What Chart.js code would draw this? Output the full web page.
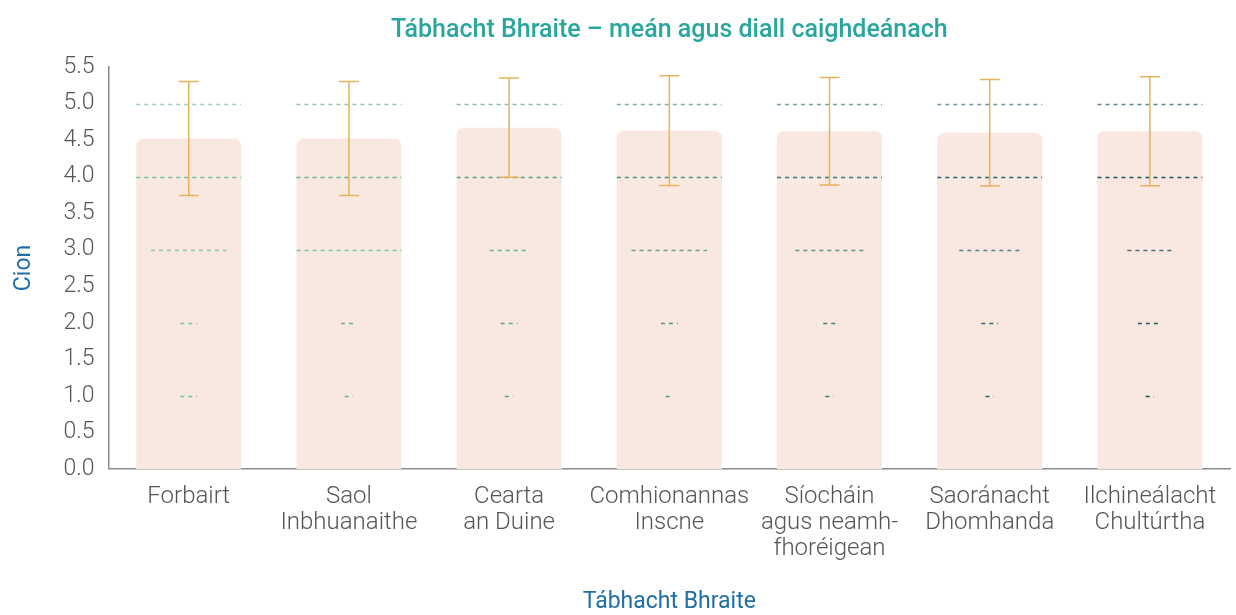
<!DOCTYPE html>
<html>
<head>
<meta charset="utf-8">
<script src="https://cdn.jsdelivr.net/npm/chart.js@4.4.1/dist/chart.umd.min.js"></script>
<style>
  body { margin: 0; background: #fff; }
  #wrap { width: 1236px; height: 615px; }
</style>
</head>
<body>
<div id="wrap"><canvas id="chart"></canvas></div>
<script>
// Dados
const categories = [
    'Forbairt',
    ['Saol', 'Inbhuanaithe'],
    ['Cearta', 'an Duine'],
    ['Comhionannas', 'Inscne'],
    ['Síocháin', 'agus neamh-', 'fhoréigean'],
    ['Saoránacht', 'Dhomhanda'],
    ['Ilchineálacht', 'Chultúrtha']
];
const means = [4.52, 4.52, 4.67, 4.63, 4.62, 4.60, 4.62];
const stdDevs = [0.78, 0.78, 0.68, 0.75, 0.735, 0.73, 0.745];
const yTicks = [0, 0.5, 1, 1.5, 2, 2.5, 3, 3.5, 4, 4.5, 5, 5.5];

// relative share of answers at each level (1..5), largest = 1
const levels = [1, 2, 3, 4, 5];
const shareLevel1 = [0.16, 0.08, 0.08, 0.07, 0.08, 0.08, 0.08];
const shareLevel2 = [0.16, 0.15, 0.16, 0.16, 0.12, 0.16, 0.23];
const shareLevel3 = [0.72, 1.00, 0.37, 0.72, 0.65, 0.58, 0.43];
const shareLevel4 = [1.00, 1.00, 1.00, 1.00, 1.00, 1.00, 1.00];
const shareLevel5 = [1.00, 1.00, 1.00, 1.00, 1.00, 1.00, 1.00];
const shares = [shareLevel1, shareLevel2, shareLevel3, shareLevel4, shareLevel5];

// cores
const lineColors = ['#6cc49a', '#5cb591', '#4fa48b', '#418f86', '#337b80', '#266674', '#1a5262'];
const levelAlpha = [1, 0.95, 0.8, 1, 0.7];

// Plugin: linhas tracejadas por nível e barras de erro
const overlayPlugin = {
    id: 'overlay',
    afterDatasetsDraw(chart) {
        const ctx = chart.ctx;
        const x = chart.scales.x;
        const y = chart.scales.y;
        const meta = chart.getDatasetMeta(0);
        ctx.save();
        meta.data.forEach((bar, i) => {
            const cx = x.getPixelForValue(i);
            const bw = bar.width;
            // linhas tracejadas
            levels.forEach((lv, k) => {
                const w = bw * shares[k][i];
                const py = Math.round(y.getPixelForValue(lv)) + 0.5;
                ctx.globalAlpha = levelAlpha[k];
                ctx.strokeStyle = lineColors[i];
                ctx.lineWidth = 1.5;
                ctx.setLineDash([4, 4]);
                ctx.beginPath();
                ctx.moveTo(cx - w / 2, py);
                ctx.lineTo(cx + w / 2, py);
                ctx.stroke();
            });
            // barra de erro
            ctx.globalAlpha = 1;
            ctx.setLineDash([]);
            ctx.strokeStyle = '#e4b35c';
            ctx.lineWidth = 1.5;
            const top = y.getPixelForValue(means[i] + stdDevs[i]);
            const bot = y.getPixelForValue(means[i] - stdDevs[i]);
            ctx.beginPath();
            ctx.moveTo(cx, top);
            ctx.lineTo(cx, bot);
            ctx.moveTo(cx - 10, top);
            ctx.lineTo(cx + 10, top);
            ctx.moveTo(cx - 10, bot);
            ctx.lineTo(cx + 10, bot);
            ctx.stroke();
        });
        ctx.restore();
    }
};

const chartConfig = {
    type: 'bar',
    data: {
        labels: categories,
        datasets: [{
            label: 'Meán',
            data: means,
            backgroundColor: '#f9e8e0',
            borderRadius: { topLeft: 7, topRight: 7 },
            borderSkipped: 'start',
            barPercentage: 0.655,
            categoryPercentage: 1
        }]
    },
    options: {
        responsive: true,
        maintainAspectRatio: false,
        animation: false,
        layout: { padding: { top: 0, right: 6, left: 0, bottom: 0 } },
        plugins: {
            legend: { display: false },
            tooltip: { enabled: false },
            title: {
                display: true,
                text: 'Tábhacht Bhraite – meán agus diall caighdeánach',
                color: '#2aa6a0',
                fullSize: false,
                font: { family: 'Roboto', size: 25, weight: '500' },
                padding: { top: 16, bottom: 21 }
            }
        },
        scales: {
            x: {
                grid: { display: false, drawTicks: false },
                border: { color: '#8a8a8a', width: 1.5 },
                ticks: {
                    color: '#555',
                    padding: 15,
                    maxRotation: 0,
                    autoSkip: false,
                    font: { family: 'Roboto', size: 24, weight: '300', lineHeight: 1.08 }
                },
                title: {
                    display: true,
                    text: 'Tábhacht Bhraite',
                    color: '#1f6fa6',
                    font: { family: 'Roboto', size: 23, weight: '400', lineHeight: 1.1 },
                    padding: { top: 13, bottom: 0 }
                }
            },
            y: {
                min: 0,
                max: 5.5,
                afterBuildTicks: (axis) => {
                    axis.ticks = yTicks.map(v => ({ value: v }));
                },
                grid: { display: false, drawTicks: false },
                border: { color: '#8a8a8a', width: 1.5 },
                ticks: {
                    color: '#555',
                    padding: 14,
                    callback: (v) => Number(v).toFixed(1),
                    font: { family: 'Roboto', size: 23, weight: '300' }
                },
                title: {
                    display: true,
                    text: 'Cion',
                    color: '#1f6fa6',
                    font: { family: 'Roboto', size: 23, weight: '400' },
                    padding: { top: 10, bottom: 12 }
                }
            }
        }
    },
    plugins: [overlayPlugin]
};

window.onload = function() {
    const ctx = document.getElementById('chart').getContext('2d');
    new Chart(ctx, chartConfig);
};
</script>
</body>
</html>
